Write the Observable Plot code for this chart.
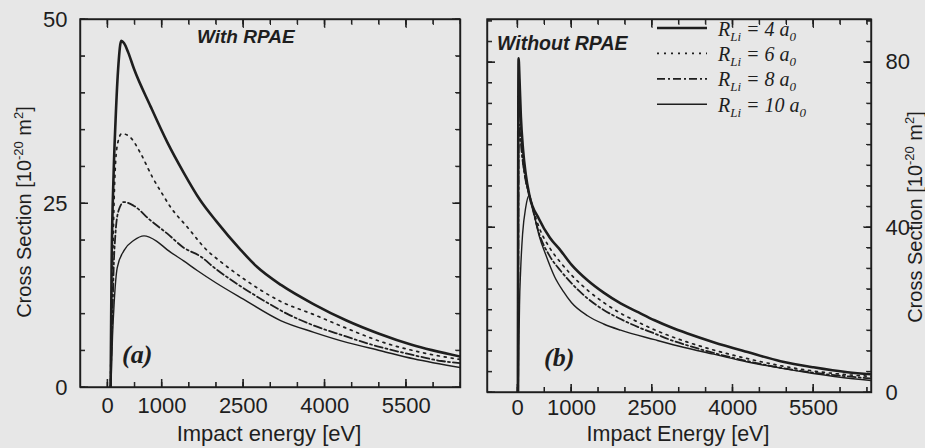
<!DOCTYPE html>
<html><head><meta charset="utf-8">
<script src="https://cdn.jsdelivr.net/npm/d3@7"></script>
<script src="https://cdn.jsdelivr.net/npm/@observablehq/plot@0.6"></script>
<style>
html,body{margin:0;padding:0;background:#e7e7e7;}
#wrap{position:relative;width:925px;height:448px;overflow:hidden;background:#e7e7e7;}
#wrap svg{position:absolute;top:0;}
</style></head><body><div id="wrap"></div>
<script>
// ---------- data (impact energy [eV], cross section [1e-20 m^2]) ----------
// Panel (a): With RPAE
const withR4  = [[55,0],[72,16],[110,29],[146,36.3],[200,44],[250,47.1],[300,46.8],[380,45.5],[485,43.3],[790,38.2],[1100,33.3],[1400,29.2],[1700,25.5],[2000,22.6],[2450,18.7],[2750,16.4],[3200,13.9],[3800,11.3],[4400,9.1],[5000,7.3],[5600,5.8],[6500,4.2]];
const withR6  = [[50,0],[90,16],[130,28],[180,33],[260,34.5],[416,34],[608,31.8],[823,28.6],[1007,26.3],[1160,24.5],[1467,21.8],[1836,18.6],[2081,17.1],[2500,14.8],[3186,11.7],[3800,9.9],[4350,8.2],[5090,6.1],[5820,4.7],[6500,3.8]];
const withR8  = [[50,0],[90,10],[110,16],[145,21],[200,24],[300,25.2],[480,24.7],[790,22.7],[1100,20.9],[1400,19],[1713,17.8],[1960,16.3],[2400,14],[2900,11.7],[3310,10],[3770,8.5],[4322,7.1],[4967,5.6],[5520,4.6],[6150,3.6],[6500,3.3]];
const withR10 = [[60,0],[90,7],[120,11.5],[177,16.3],[300,18.6],[485,20],[670,20.6],[900,19.9],[1100,18.7],[1400,17.2],[1650,15.9],[2000,14.2],[2500,12],[3186,9.1],[3800,7.5],[4420,6.1],[5028,5],[5635,3.9],[6500,2.7]];
// Panel (b): Without RPAE
const withoutR4  = [[5,0],[9,40],[13,70],[18,81],[35,76],[60,67],[100,59],[150,53],[215,48],[400,42],[600,37.5],[800,34.4],[1000,31],[1300,27.2],[1600,24.2],[1915,21.6],[2250,19.4],[2546,17.5],[2850,15.8],[3160,14.3],[3643,12.2],[4275,9.8],[4888,7.6],[5500,6.1],[6134,4.9],[6580,4.4]];
const withoutR6  = [[8,0],[12,40],[16,65],[22,72],[40,69],[65,62],[100,56],[150,51.5],[215,48],[400,40],[600,35],[800,31.5],[1000,28.5],[1300,24.8],[1600,21.8],[1915,19.2],[2250,17],[2546,15.2],[2850,13.6],[3160,12.2],[3643,10.3],[4275,8.2],[4888,6.5],[5500,5.2],[6134,4.3],[6580,3.9]];
const withoutR8  = [[10,0],[14,35],[20,60],[28,65],[45,63],[70,59],[105,55],[155,51],[215,48],[400,38.5],[600,33],[800,29.5],[1000,26.5],[1300,22.8],[1600,20],[1915,17.8],[2250,15.8],[2546,14.3],[2850,12.7],[3160,11.4],[3643,9.6],[4275,7.6],[4888,6],[5500,4.8],[6134,3.9],[6580,3.4]];
const withoutR10 = [[15,0],[25,12],[35,21],[56,29.6],[93,38.5],[150,44.8],[215,47.8],[300,43.5],[400,38],[520,33.5],[690,28],[850,24.5],[1000,21.8],[1300,18.6],[1600,16.6],[1915,15.1],[2546,12.8],[3100,10.9],[3643,9.3],[4275,7.4],[4888,5.9],[5500,4.6],[6000,3.7],[6580,2.9]];

// ---------- ticks & labels ----------
const xMinorTicks = [0,500,1000,1500,2000,2500,3000,3500,4000,4500,5000,5500,6000,6500];
const xMajorTicks = [0,1000,2500,4000,5500];
const yLeftMinor  = [0,5,10,15,20,25,30,35,40,45,50];
const yLeftMajor  = [0,25,50];
const yRightMinor = [0,5,10,15,20,25,30,35,40,45,50,55,60,65,70,75,80,85,90];
const yRightMajor = [0,40,80];
const legendRadii = ["4","6","8","10"];

const INK = "#1e1e1e";
const SANS = "'Liberation Sans', Arial, Helvetica, sans-serif";
const SERIF = "'Liberation Serif', 'Times New Roman', serif";
const styles = [
  {strokeWidth: 2.6, strokeDasharray: null},
  {strokeWidth: 1.7, strokeDasharray: "2,5"},
  {strokeWidth: 1.8, strokeDasharray: "8,3,2,3"},
  {strokeWidth: 1.4, strokeDasharray: null}
];
const rows = arr => arr.map(([E, v]) => ({E, v}));

function panel(o) {
  const marks = [Plot.frame({stroke: INK, strokeWidth: 1.4})];
  for (const [ticks, size] of [[xMinorTicks, 5], [xMajorTicks, 8]]) {
    marks.push(Plot.axisX(ticks, {anchor: "bottom", tickSize: size, dy: -size, fill: "none", stroke: INK, label: null}));
    marks.push(Plot.axisX(ticks, {anchor: "top", tickSize: size, dy: size, fill: "none", stroke: INK, label: null}));
  }
  for (const [ticks, size] of [[o.yMinor, 5], [o.yMajor, 8]]) {
    marks.push(Plot.axisY(ticks, {anchor: "left", tickSize: size, dx: size, fill: "none", stroke: INK, label: null}));
    marks.push(Plot.axisY(ticks, {anchor: "right", tickSize: size, dx: -size, fill: "none", stroke: INK, label: null}));
  }
  marks.push(Plot.axisX(xMajorTicks, {anchor: "bottom", tickSize: 0, tickPadding: o.xPad, tickFormat: d => String(d), label: null, fill: INK}));
  marks.push(Plot.axisY(o.yMajor, {anchor: o.ySide, tickSize: 0, tickPadding: o.yPad, tickFormat: d => String(d), label: null, fill: INK}));
  o.series.forEach((s, i) => {
    marks.push(Plot.line(rows(s), {x: "E", y: "v", stroke: INK, strokeWidth: styles[i].strokeWidth,
      strokeDasharray: styles[i].strokeDasharray, curve: "monotone-x", clip: true}));
  });
  const svg = Plot.plot({
    width: o.width, height: 448,
    marginLeft: o.ml, marginRight: o.mr, marginTop: 19, marginBottom: o.mb,
    x: {domain: o.xDomain}, y: {domain: o.yDomain},
    style: {background: "transparent", color: INK, fontFamily: SANS, fontSize: "22px"},
    marks
  });
  // frame and inward ticks drawn on top from Plot's own scales
  const sx = svg.scale("x"), sy = svg.scale("y");
  const [x0, x1] = sx.range, [y0, y1] = sy.range; // y0 bottom, y1 top
  const g = d3.select(svg).append("g").attr("stroke", INK).attr("fill", "none");
  g.append("rect").attr("x", Math.min(x0, x1)).attr("y", Math.min(y0, y1))
    .attr("width", Math.abs(x1 - x0)).attr("height", Math.abs(y0 - y1)).attr("stroke-width", 1.4);
  const bottom = Math.max(y0, y1), top = Math.min(y0, y1), lft = Math.min(x0, x1), rgt = Math.max(x0, x1);
  for (const [ticks, size] of [[xMinorTicks, 5], [xMajorTicks, 8]]) for (const t of ticks) {
    const X = sx.apply(t);
    g.append("line").attr("x1", X).attr("x2", X).attr("y1", bottom).attr("y2", bottom - size).attr("stroke-width", 1);
    g.append("line").attr("x1", X).attr("x2", X).attr("y1", top).attr("y2", top + size).attr("stroke-width", 1);
  }
  for (const [ticks, size] of [[o.yMinor, 5], [o.yMajor, 8]]) for (const t of ticks) {
    const Y = sy.apply(t);
    g.append("line").attr("y1", Y).attr("y2", Y).attr("x1", lft).attr("x2", lft + size).attr("stroke-width", 1);
    g.append("line").attr("y1", Y).attr("y2", Y).attr("x1", rgt).attr("x2", rgt - size).attr("stroke-width", 1);
  }
  return svg;
}

function addText(svg, x, y, parts, attrs) {
  const t = svg.append("text").attr("x", x).attr("y", y).attr("fill", INK).attr("text-anchor", "start");
  for (const k in attrs) t.attr(k, attrs[k]);
  for (const p of parts) {
    const s = t.append("tspan").text(p.t);
    if (p.size) s.attr("font-size", p.size);
    if (p.dy) s.attr("dy", p.dy);
  }
  return t;
}
const yTitleParts = [{t: "Cross Section [10"}, {t: "-20", size: 13, dy: -8}, {t: " m", dy: 8}, {t: "2", size: 13, dy: -8}, {t: "]", dy: 8}];

const wrap = document.getElementById("wrap");

// ---------- left panel ----------
const left = panel({width: 470, ml: 80, mr: 10, mb: 61, xDomain: [-500, 6500], yDomain: [0, 50],
  series: [withR4, withR6, withR8, withR10], yMinor: yLeftMinor, yMajor: yLeftMajor, ySide: "left", xPad: 10, yPad: 13});
left.style.left = "0px";
wrap.appendChild(left);
const ls = d3.select(left);
addText(ls, 197, 43, [{t: "With RPAE"}], {"font-family": SANS, "font-size": 19, "font-weight": "bold", "font-style": "italic"});
addText(ls, 122, 363, [{t: "(a)"}], {"font-family": SERIF, "font-size": 26, "font-weight": "bold", "font-style": "italic"});
addText(ls, 0, 0, yTitleParts, {"font-family": SANS, "font-size": 20, "text-anchor": "middle", transform: "translate(31,212) rotate(-90)"});
addText(ls, 269, 441, [{t: "Impact energy [eV]"}], {"font-family": SANS, "font-size": 22, "text-anchor": "middle"});

// ---------- right panel ----------
const right = panel({width: 455, ml: 17, mr: 54, mb: 56, xDomain: [-560, 6580], yDomain: [0, 90.4],
  series: [withoutR4, withoutR6, withoutR8, withoutR10], yMinor: yRightMinor, yMajor: yRightMajor, ySide: "right", xPad: 7, yPad: 14});
right.style.left = "470px";
wrap.appendChild(right);
const rs = d3.select(right);
addText(rs, 27, 50, [{t: "Without RPAE"}], {"font-family": SANS, "font-size": 19.5, "font-weight": "bold", "font-style": "italic"});
addText(rs, 74, 366, [{t: "(b)"}], {"font-family": SERIF, "font-size": 26, "font-weight": "bold", "font-style": "italic"});
addText(rs, 0, 0, yTitleParts, {"font-family": SANS, "font-size": 20, "text-anchor": "middle", transform: "translate(452,217) rotate(-90)"});
addText(rs, 208, 441, [{t: "Impact Energy [eV]"}], {"font-family": SANS, "font-size": 21.5, "text-anchor": "middle"});
legendRadii.forEach((r, i) => {
  const yL = 28 + i * 25.4;
  rs.append("line").attr("x1", 187).attr("x2", 237).attr("y1", yL).attr("y2", yL)
    .attr("stroke", INK).attr("stroke-width", styles[i].strokeWidth)
    .attr("stroke-dasharray", styles[i].strokeDasharray);
  addText(rs, 248, yL + 7.5, [{t: "R"}, {t: "Li", size: 13, dy: 5}, {t: " = " + r + " a", dy: -5}, {t: "0", size: 13, dy: 5}],
    {"font-family": SERIF, "font-size": 20, "font-style": "italic"});
});
</script></body></html>
